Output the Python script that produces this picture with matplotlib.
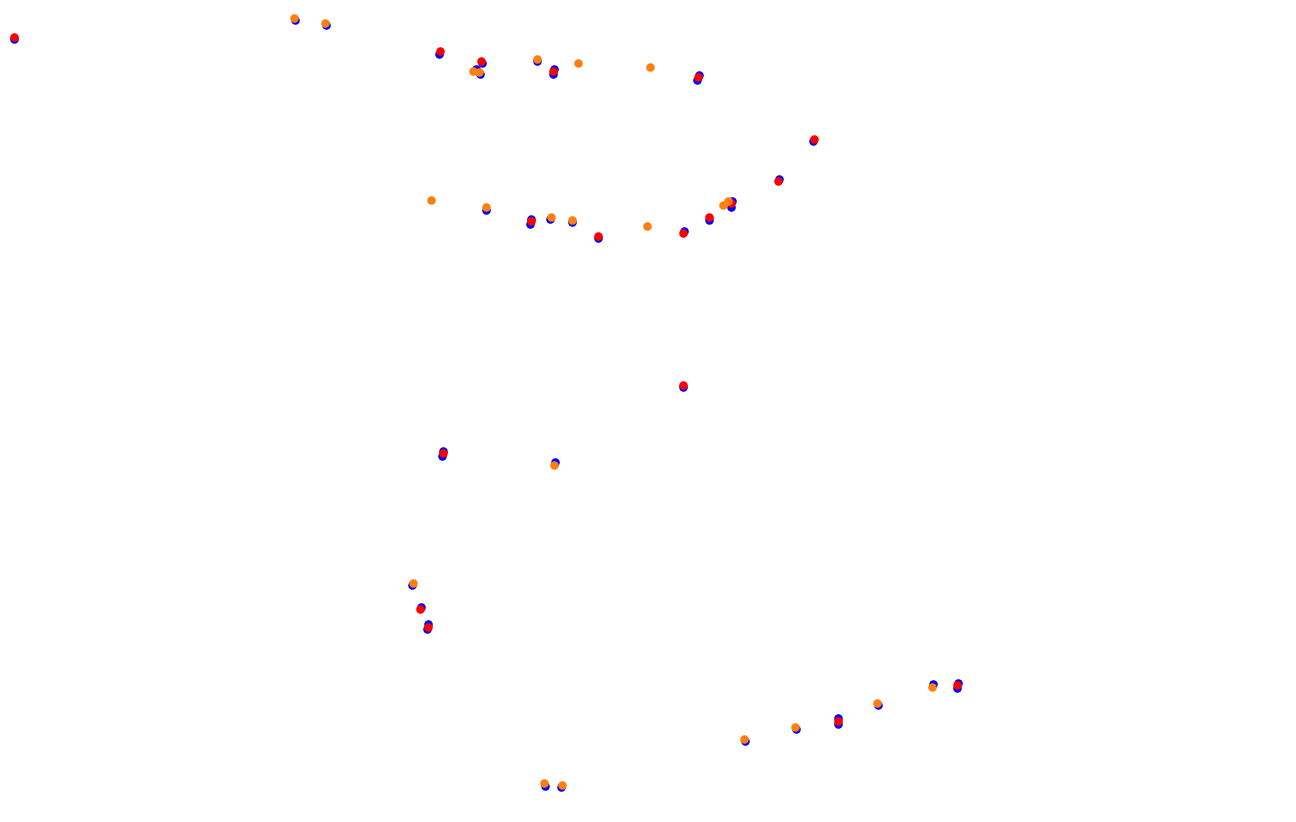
#!/usr/bin/env python3
"""Scatter of track points: blue reference, red and orange overlays."""
import matplotlib
matplotlib.use('Agg')
import matplotlib.pyplot as plt

# blue reference points (x, y in screen units, y downwards)
blue_x = [13.8, 295, 326, 438.8, 481.6, 475.5, 480, 536.8, 553.8, 553, 699, 696.6,
          486, 531, 530, 550, 572, 598, 683.7, 709, 731.7, 730.6, 778.7, 813,
          683.2, 443.3, 442.4, 554.8, 411.6, 420.8, 428, 427.3, 544.8, 560.5,
          745, 796, 838, 837.7, 878, 933, 957.8, 956.8]
blue_y = [39, 19.8, 24.8, 53.6, 63, 68.6, 73.8, 61, 68.6, 73.6, 75.4, 79.6,
          209.6, 219, 224, 219, 222.4, 238.2, 231.2, 220.4, 200.6, 206.6, 179.4, 141.2,
          387.4, 451, 456, 462, 585.4, 607.2, 624.4, 629.4, 785.8, 787.4,
          741, 729.4, 718, 724.2, 705.4, 684.4, 682.6, 688]

# red overlay points
red_x = [14, 440, 481.3, 552.7, 697.7, 530.7, 598, 682.7, 709, 731, 777.7, 813.7,
         682.7, 443.3, 420, 427.7, 837.7, 957]
red_y = [37, 51, 61, 71, 76.7, 220.7, 235.7, 232.7, 217.3, 203.3, 180.7, 138.7,
         385.3, 453, 608.7, 626.7, 720.7, 685]

# orange overlay points
orange_x = [294, 325, 473.3, 479.3, 537, 578, 649.7, 430.7, 486, 551, 572, 646.7,
            722.7, 728.3, 553.7, 413, 543.7, 561.7, 743.7, 795, 876.7, 931.7]
orange_y = [17.7, 22.7, 70.7, 72, 58.7, 62.7, 66.7, 199.7, 206.7, 216.7, 219.7, 225.7,
            204.7, 201.3, 464.7, 582.7, 782.7, 784.7, 738.7, 726.7, 702.7, 687]

fig = plt.figure(figsize=(12.96, 8.22), dpi=100)
ax = fig.add_axes([0, 0, 1, 1])
ax.scatter(blue_x, blue_y, s=38, color='#0000ff', linewidths=0)
ax.scatter(red_x, red_y, s=38, color='#ff0000', linewidths=0)
ax.scatter(orange_x, orange_y, s=38, color='#ff7f0e', linewidths=0)
ax.set_xlim(0, 1296)
ax.set_ylim(822, 0)
ax.axis('off')
plt.savefig('out.png', dpi=100)
